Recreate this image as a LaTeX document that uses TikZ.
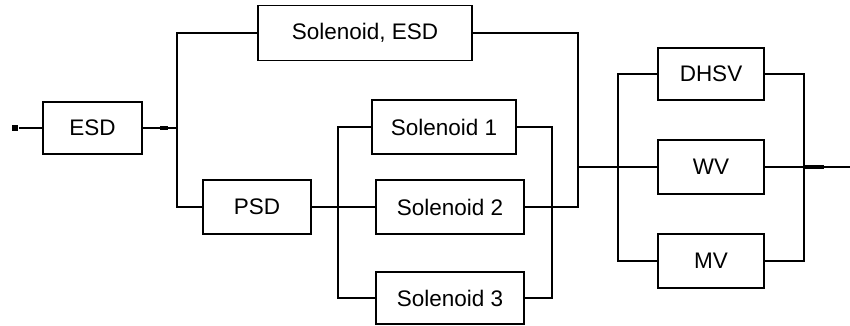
\documentclass[tikz,border=0pt]{standalone}
\usepackage{fontspec}
\setmainfont{Liberation Sans}
\begin{document}
\begin{tikzpicture}[x=1pt,y=-1pt,
  line width=1.8pt,
  blk/.style={draw, rectangle, inner sep=0pt, font=\fontsize{22.5}{27}\selectfont},
  wire/.style={draw, line width=1.8pt},
  heavy/.style={draw, line width=3.2pt},
  endmark/.style={fill, rectangle, inner sep=0pt, minimum width=6pt, minimum height=6pt}]
  \useasboundingbox (0,0) rectangle (850,326);

  % blocks
  \node[blk, minimum width=99pt,  minimum height=52pt] (esd)    at (92.5,128) {ESD};
  \node[blk, minimum width=214pt, minimum height=55pt] (solesd) at (365,33)   {Solenoid, ESD};
  \node[blk, minimum width=108pt, minimum height=54pt] (psd)    at (257,207)  {PSD};
  \node[blk, minimum width=144pt, minimum height=54pt] (sol1)   at (444,127)  {Solenoid 1};
  \node[blk, minimum width=148pt, minimum height=54pt] (sol2)   at (450,207)  {Solenoid 2};
  \node[blk, minimum width=148pt, minimum height=52pt] (sol3)   at (450,298)  {Solenoid 3};
  \node[blk, minimum width=106pt, minimum height=52pt] (dhsv)   at (711,74)   {DHSV};
  \node[blk, minimum width=106pt, minimum height=54pt] (wv)     at (711,167)  {WV};
  \node[blk, minimum width=106pt, minimum height=54pt] (mv)     at (711,261)  {MV};

  % terminals and junction points
  \node[endmark] (start) at (15,128) {};
  \coordinate (out) at (850,167);
  \coordinate (ja) at (177,128);
  \coordinate (jb) at (338,207);
  \coordinate (jc) at (552,207);
  \coordinate (jd) at (578,167);
  \coordinate (je) at (618,167);
  \coordinate (jf) at (804,167);

  % input side
  \draw[wire] (start) -- (esd.west);
  \draw[wire] (esd.east) -- (ja);
  \draw[heavy] (160,128) -- (168,128);
  \draw[wire] (solesd.west) -| (ja) |- (psd.west);

  % solenoid bank
  \draw[wire] (psd.east) -- (sol2.west);
  \draw[line width=2.3pt] (psd.east) -- (jb);
  \draw[wire] (sol1.west) -| (jb) |- (sol3.west);
  \draw[wire] (sol1.east) -| (jc) |- (sol3.east);
  \draw[line width=2.3pt] (sol2.east) -- (jc);

  % merge into the valve bank
  \draw[wire] (solesd.east) -| (578,207) -- (jc);
  \draw[wire] (jd) -- (je);

  % valve bank
  \draw[wire] (dhsv.west) -| (je) |- (mv.west);
  \draw[wire] (je) -- (wv.west);
  \draw[wire] (dhsv.east) -| (jf) |- (mv.east);
  \draw[wire] (wv.east) -- (out);
  \draw[heavy] (jf) -- (824,167);
\end{tikzpicture}
\end{document}
